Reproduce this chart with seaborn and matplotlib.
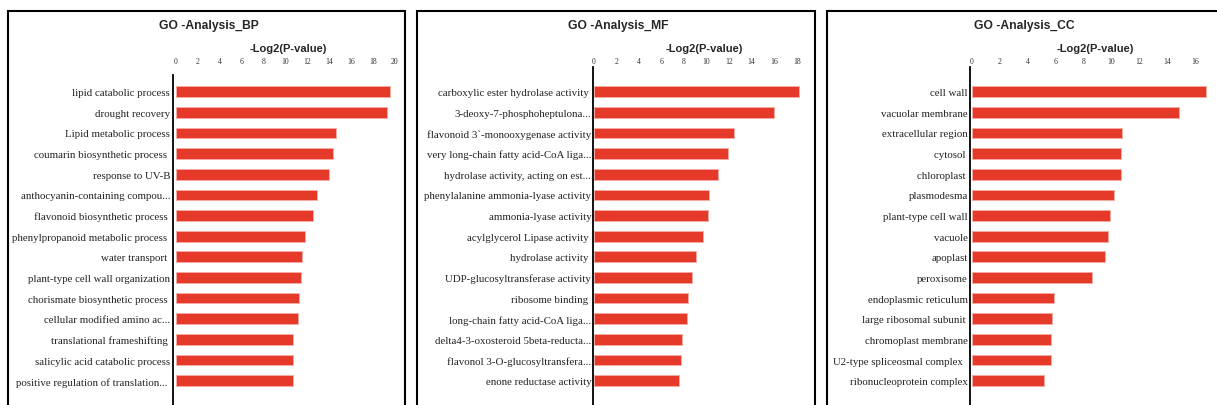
import matplotlib
matplotlib.use("Agg")
import matplotlib.pyplot as plt
from matplotlib.patches import Rectangle
import seaborn as sns

# ---------------- data ----------------
bp_terms = ["lipid catabolic process", "drought recovery", "Lipid metabolic process",
            "coumarin biosynthetic process ", "response to UV-B", "anthocyanin-containing compou...",
            "flavonoid biosynthetic process ", "phenylpropanoid metabolic process ", "water transport ",
            "plant-type cell wall organization", "chorismate biosynthetic process ",
            "cellular modified amino ac...", "translational frameshifting ",
            "salicylic acid catabolic process", "positive regulation of translation... "]
bp_values = [19.6, 19.25, 14.6, 14.4, 14.0, 12.9, 12.5, 11.8, 11.5, 11.4, 11.3, 11.2, 10.7, 10.7, 10.75]
bp_ticks = [0, 2, 4, 6, 8, 10, 12, 14, 16, 18, 20]

mf_terms = ["carboxylic ester hydrolase activity ", "3-deoxy-7-phosphoheptulona...",
            "flavonoid 3`-monooxygenase activity", "very long-chain fatty acid-CoA liga...",
            "hydrolase activity, acting on est...", "phenylalanine ammonia-lyase activity",
            "ammonia-lyase activity", "acylglycerol Lipase activity ", "hydrolase activity ",
            "UDP-glucosyltransferase activity", "ribosome binding ", "long-chain fatty acid-CoA liga...",
            "delta4-3-oxosteroid 5beta-reducta...", "flavonol 3-O-glucosyltransfera...",
            "enone reductase activity"]
mf_values = [18.24, 16.0, 12.4, 11.9, 11.05, 10.2, 10.1, 9.7, 9.06, 8.74, 8.38, 8.26, 7.85, 7.73, 7.58]
mf_ticks = [0, 2, 4, 6, 8, 10, 12, 14, 16, 18]

cc_terms = ["cell wall", "vacuolar membrane", "extracellular region", "cytosol ", "chloroplast ",
            "plasmodesma", "plant-type cell wall", "vacuole", "apoplast", "peroxisome",
            "endoplasmic reticulum", "large ribosomal subunit ", "chromoplast membrane",
            "U2-type spliceosmal complex  ", "ribonucleoprotein complex"]
cc_values = [16.8, 14.87, 10.77, 10.72, 10.67, 10.2, 9.9, 9.74, 9.57, 8.64, 5.9, 5.75, 5.68, 5.68, 5.18]
cc_ticks = [0, 2, 4, 6, 8, 10, 12, 14, 16]

titles = ["GO -Analysis_BP", "GO -Analysis_MF", "GO -Analysis_CC"]
xlabel = "-Log2(P-value)"

# ---------------- style ----------------
sns.set_style("white")
plt.rcParams["font.family"] = ["Liberation Serif", "DejaVu Serif"]

W, H = 1217, 406
fig = plt.figure(figsize=(W / 100, H / 100), dpi=100)

BAR_COLOR = "#e53a2a"
EDGE_COLOR = "#f5aaa2"

FIRST_BAR_Y = 92.7
ROW = 20.64
AX_BOTTOM_PX = 425.0

panels = [
    # terms, values, ticks, title, spine px L, zero px Z, scale s, right px R, top px, pad,
    # box left, box right, title x, xlabel x
    (bp_terms, bp_values, bp_ticks, titles[0], 173.0, 175.5, 10.965, 401.0, 76.0, 2.0, 8, 405, 208.8, 288.3),
    (mf_terms, mf_values, mf_ticks, titles[1], 592.7, 594.0, 11.26, 810.0, 68.0, 1.0, 417.3, 815, 618.0, 704.0),
    (cc_terms, cc_values, cc_ticks, titles[2], 970.0, 971.7, 13.96, 1216.0, 68.0, 1.5, 827, 1232, 1024.0, 1095.3),
]

for (terms, vals, ticks, title, L, Z, s, R, top, pad, bl, br, tx, lx) in panels:
    ax = fig.add_axes([L / W, 1 - AX_BOTTOM_PX / H, (R - L) / W, (AX_BOTTOM_PX - top) / H])
    sns.barplot(x=vals, y=terms, ax=ax, color=BAR_COLOR, saturation=1,
                width=0.52, edgecolor=EDGE_COLOR, linewidth=0.7, orient="h")
    ax.set_xlim((L - Z) / s, (R - Z) / s)
    ax.set_ylim((AX_BOTTOM_PX - FIRST_BAR_Y) / ROW, -(FIRST_BAR_Y - top) / ROW)
    ax.xaxis.tick_top()
    ax.set_xticks(ticks)
    ax.set_xticklabels([str(t) for t in ticks])
    ax.tick_params(axis="x", length=0, labelsize=5.6, pad=(top - 66) * 0.72)
    ax.tick_params(axis="y", length=0, labelsize=7.8, pad=pad)
    for lab in ax.get_yticklabels():
        lab.set_color("#222222")
    for lab in ax.get_xticklabels():
        lab.set_color("#333333")
    ax.set_xlabel("")
    ax.set_ylabel("")
    for sp in ["top", "right", "bottom"]:
        ax.spines[sp].set_visible(False)
    ax.spines["left"].set_color("black")
    ax.spines["left"].set_linewidth(1.3)
    ax.patch.set_alpha(0)

    # panel frame (extends beyond the bottom of the image)
    fig.patches.append(Rectangle((bl / W, -0.1), (br - bl) / W, 1.1 - 12 / H,
                                 fill=False, edgecolor="black", linewidth=1.5,
                                 transform=fig.transFigure, figure=fig))
    fig.text(tx / W, 1 - 26.5 / H, title, ha="center", va="center",
             fontsize=8.7, fontweight="bold", family=["Liberation Sans", "DejaVu Sans"])
    fig.text(lx / W, 1 - 49.5 / H, xlabel, ha="center", va="center",
             fontsize=8, fontweight="bold", family=["Liberation Sans", "DejaVu Sans"])

fig.savefig("out.png", dpi=100, facecolor="white")
